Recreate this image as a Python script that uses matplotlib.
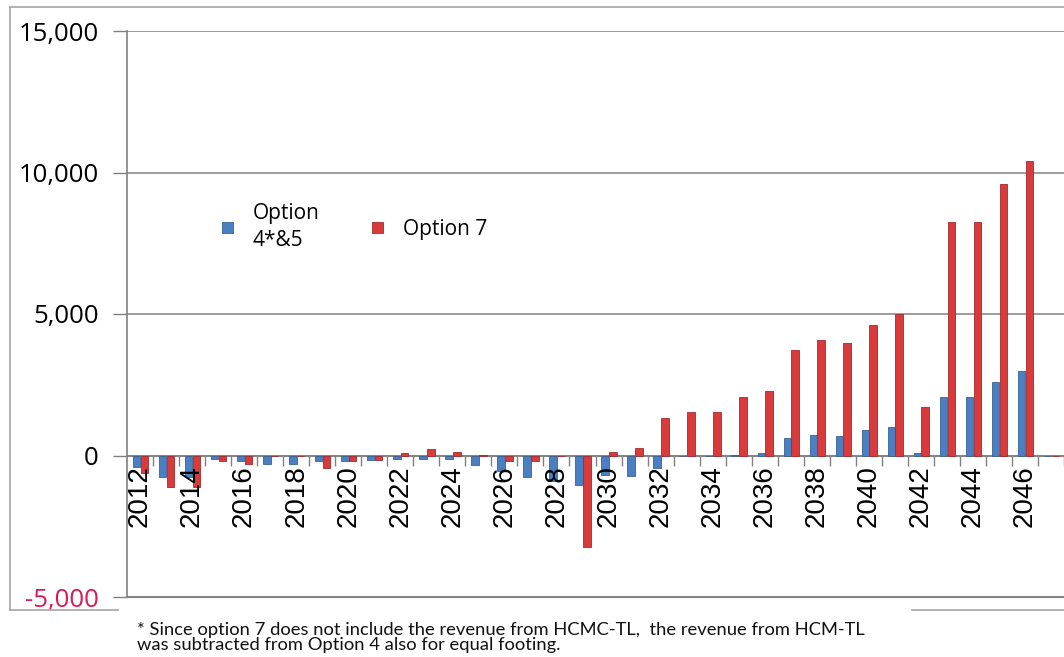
import matplotlib
matplotlib.use("Agg")
import matplotlib.pyplot as plt
from matplotlib.lines import Line2D
from matplotlib.ticker import FuncFormatter
import numpy as np

years = list(range(2012, 2048))
option_45 = [-390, -770, -770, -140, -210, -290, -290, -210, -180, -150,
             -140, -140, -140, -320, -550, -760, -900, -1035, -680, -730,
             -450, -20, -30, 20, 100, 625, 730, 695, 918, 1000,
             106, 2080, 2080, 2610, 3000, -30]
option_7 = [-610, -1110, -1110, -210, -290, 0, 0, -430, -180, -150,
            80, 230, 120, 30, -180, -180, 0, -3230, 120, 260,
            1320, 1530, 1530, 2080, 2270, 3740, 4080, 3975, 4620, 5000,
            1710, 8260, 8260, 9580, 10390, -20]
yticks = [-5000, 0, 5000, 10000, 15000]

fig = plt.figure(figsize=(10.64, 6.57), dpi=100)
ax = fig.add_axes([127 / 1064, 60 / 657, 937 / 1064, 566 / 657])

x = np.arange(len(years))
ax.bar(x - 0.13, option_45, width=0.29, color="#4a7fc1", edgecolor="#3a6296",
       linewidth=0.6, label="Option\n4*&5", zorder=3)
ax.bar(x + 0.17, option_7, width=0.29, color="#d93a3c", edgecolor="#a52a2c",
       linewidth=0.6, label="Option 7", zorder=3)

ax.set_xlim(-0.5, len(years) - 0.5)
ax.set_ylim(-5000, 15000)

# y axis: gridlines every 5,000, thousands separators
ax.set_yticks(yticks)
ax.yaxis.set_major_formatter(FuncFormatter(lambda v, p: f"{int(v):,}"))
ax.tick_params(axis="y", length=10, width=1, color="#808080", pad=10.5,
               labelsize=18.5, labelfontfamily="Open Sans")
for lab in ax.get_yticklabels():
    if lab.get_text().startswith("-") or lab.get_text().startswith("\u2212"):
        lab.set_color("#d81b55")
ax.grid(axis="y", color="#8c8c8c", linewidth=1.2)
ax.yaxis.set_zorder(1)
ax.xaxis.set_zorder(4)

# x axis sits on zero; year labels on every second category
ax.spines["bottom"].set_position(("data", 0))
ax.spines["bottom"].set_color("#808080")
ax.spines["bottom"].set_linewidth(1.2)
ax.spines["left"].set_color("#808080")
ax.spines["left"].set_linewidth(1.2)
ax.spines["top"].set_visible(False)
ax.spines["right"].set_visible(False)

ax.set_xticks(x[::2])
ax.set_xticklabels([str(y) for y in years[::2]], rotation=90,
                   fontsize=20, fontfamily="Liberation Sans")
ax.set_xticks(np.arange(len(years)) + 0.5, minor=True)
ax.tick_params(axis="x", which="major", length=0, pad=7)
ax.tick_params(axis="x", which="minor", length=7, width=1, color="#808080")

# bottom edge of the plot area
ax.axhline(-5000, color="#808080", linewidth=1.5, zorder=1, clip_on=False)

leg = ax.legend(loc="center left", bbox_to_anchor=(0.081, 0.654), ncol=2,
                frameon=False, prop={"family": "Open Sans", "size": 15},
                handlelength=0.55, handleheight=0.42, columnspacing=2.5,
                handletextpad=0.95)
leg.get_texts()[0].set_linespacing(1.35)

# outer chart border, broken where the footnote sits
border = "#a6a6a6"
fig.add_artist(Line2D([10 / 1064, 1], [1 - 7 / 657, 1 - 7 / 657],
                      color=border, linewidth=1.2))
fig.add_artist(Line2D([10 / 1064, 10 / 1064], [1 - 7 / 657, 1 - 610 / 657],
                      color=border, linewidth=1.2))
fig.add_artist(Line2D([10 / 1064, 118 / 1064], [1 - 610 / 657, 1 - 610 / 657],
                      color=border, linewidth=1.2))
fig.add_artist(Line2D([912 / 1064, 1], [1 - 610 / 657, 1 - 610 / 657],
                      color=border, linewidth=1.2))

fig.text(137 / 1064, 1 - 622 / 657,
         "* Since option 7 does not include the revenue from HCMC-TL,  the revenue from HCM-TL\n"
         "was subtracted from Option 4 also for equal footing.",
         ha="left", va="top", fontsize=13.2, fontfamily="Lato",
         linespacing=0.9, color="#111111")

fig.savefig("out.png", dpi=100)
